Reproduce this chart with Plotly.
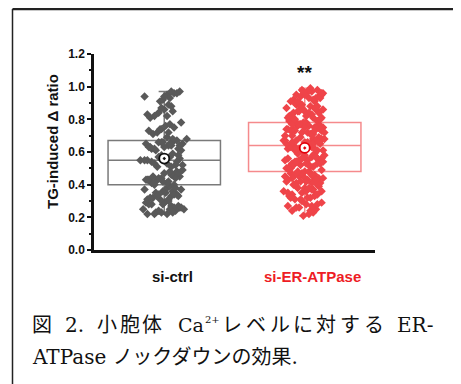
import plotly.graph_objects as go

# ---------------- data ----------------
groups = ["si-ctrl", "si-ER-ATPase"]
group_pos = [0, 1]

ctrl_y = [
    0.22, 0.23, 0.22, 0.24, 0.25, 0.26, 0.23, 0.27, 0.28, 0.25, 0.29, 0.24, 0.26, 0.28, 0.30, 0.27, 0.22, 0.25, 0.29, 0.26, 0.23, 0.28,
    0.31, 0.33, 0.32, 0.34, 0.35, 0.31, 0.36, 0.33, 0.37, 0.38, 0.32, 0.34, 0.36, 0.39, 0.35, 0.33, 0.37, 0.31, 0.38, 0.34,
    0.41, 0.42, 0.43, 0.40, 0.44, 0.45, 0.42, 0.46, 0.47, 0.43, 0.48, 0.41, 0.44, 0.49, 0.45, 0.46, 0.42, 0.47, 0.43, 0.48, 0.40, 0.44,
    0.51, 0.52, 0.53, 0.55, 0.54, 0.56, 0.57, 0.58, 0.52, 0.55, 0.59, 0.53, 0.56, 0.54, 0.57, 0.51, 0.58, 0.55,
    0.61, 0.62, 0.63, 0.64, 0.65, 0.66, 0.67, 0.68, 0.62, 0.64, 0.66, 0.61, 0.63, 0.65, 0.67, 0.69, 0.62, 0.64, 0.66, 0.68, 0.63, 0.65,
    0.71, 0.72, 0.74, 0.75, 0.73, 0.76, 0.78, 0.72, 0.77, 0.74,
    0.81, 0.82, 0.84, 0.85, 0.83, 0.86, 0.88, 0.82, 0.89, 0.87,
    0.91, 0.93, 0.94, 0.95, 0.96, 0.97, 0.92, 0.96, 0.94, 0.97,
]
ctrl_dx = [
    -0.12, -0.06, 0.02, 0.08, -0.15, 0.11, -0.02, 0.05, -0.09, 0.14, 0.00, -0.04, 0.07, -0.11, 0.03, 0.10, -0.07, 0.04, -0.13, 0.12, 0.06, -0.01,
    -0.03, 0.05, -0.08, 0.09, 0.01, -0.12, 0.06, -0.05, 0.12, 0.02, -0.10, 0.07, -0.01, 0.04, -0.06, 0.10, -0.14, 0.03, 0.08, -0.04,
    -0.09, 0.03, -0.13, 0.07, -0.02, 0.11, -0.06, 0.05, 0.00, -0.11, 0.09, 0.02, -0.04, 0.13, -0.08, 0.06, -0.01, 0.10, -0.12, 0.04, -0.07, 0.08,
    -0.05, 0.08, 0.02, -0.17, -0.09, 0.11, 0.04, -0.02, 0.13, -0.12, 0.06, -0.07, 0.00, 0.09, -0.04, 0.05, 0.10, -0.14,
    -0.06, 0.10, -0.11, 0.03, 0.13, -0.02, 0.07, 0.16, -0.09, 0.05, -0.04, 0.12, 0.00, -0.13, 0.09, 0.02, -0.07, 0.11, -0.01, 0.06, -0.10, 0.04,
    -0.08, 0.03, -0.02, 0.07, -0.11, 0.01, 0.12, -0.05, 0.04, -0.03,
    -0.10, 0.02, -0.04, 0.06, -0.12, 0.00, 0.05, -0.07, 0.03, -0.02,
    -0.03, 0.04, -0.14, 0.02, 0.07, 0.05, -0.01, 0.09, 0.00, 0.11,
]

er_y = [
    0.21, 0.22, 0.24, 0.23, 0.26, 0.25, 0.27, 0.28, 0.29, 0.24, 0.26, 0.28, 0.30, 0.27,
    0.31, 0.32, 0.33, 0.34, 0.35, 0.36, 0.37, 0.38, 0.39, 0.32, 0.34, 0.36, 0.38, 0.31, 0.33, 0.35, 0.37, 0.39, 0.34, 0.36, 0.32, 0.38,
    0.40, 0.41, 0.42, 0.43, 0.44, 0.45, 0.46, 0.47, 0.48, 0.49, 0.41, 0.43, 0.45, 0.47, 0.49, 0.40, 0.42, 0.44, 0.46, 0.48, 0.41, 0.43, 0.45, 0.47, 0.42, 0.44, 0.46, 0.48, 0.43, 0.45,
    0.50, 0.51, 0.52, 0.53, 0.54, 0.55, 0.56, 0.57, 0.58, 0.59, 0.51, 0.53, 0.55, 0.57, 0.59, 0.50, 0.52, 0.54, 0.56, 0.58, 0.51, 0.53, 0.55, 0.57, 0.52, 0.54, 0.56, 0.58, 0.53, 0.55, 0.57, 0.54,
    0.60, 0.61, 0.62, 0.63, 0.64, 0.65, 0.66, 0.67, 0.68, 0.69, 0.61, 0.63, 0.65, 0.67, 0.69, 0.60, 0.62, 0.64, 0.66, 0.68, 0.61, 0.63, 0.65, 0.67, 0.62, 0.64, 0.66, 0.68, 0.63, 0.65, 0.67, 0.64, 0.66, 0.62,
    0.70, 0.71, 0.72, 0.73, 0.74, 0.75, 0.76, 0.77, 0.78, 0.79, 0.71, 0.73, 0.75, 0.77, 0.79, 0.70, 0.72, 0.74, 0.76, 0.78, 0.71, 0.73, 0.75, 0.77, 0.72, 0.74, 0.76, 0.78, 0.73, 0.75, 0.77, 0.74,
    0.80, 0.81, 0.82, 0.83, 0.84, 0.85, 0.86, 0.87, 0.88, 0.89, 0.81, 0.83, 0.85, 0.87, 0.89, 0.80, 0.82, 0.84, 0.86, 0.88, 0.81, 0.83, 0.85, 0.87, 0.82, 0.84, 0.86, 0.88,
    0.90, 0.91, 0.92, 0.93, 0.94, 0.95, 0.96, 0.97, 0.98, 0.99, 0.91, 0.93, 0.95, 0.97, 0.90, 0.92, 0.94, 0.96, 0.98, 0.91, 0.93, 0.95, 0.97, 0.96,
]
er_dx = [
    -0.01, 0.03, -0.09, 0.06, -0.04, 0.08, -0.12, 0.01, 0.12, 0.04, -0.06, 0.09, -0.02, 0.05,
    -0.07, 0.04, -0.11, 0.08, -0.02, -0.15, 0.06, -0.05, 0.10, 0.02, -0.09, 0.12, 0.00, -0.03, 0.07, -0.12, 0.05, -0.06, 0.09, 0.01, -0.10, 0.03,
    -0.08, 0.05, -0.13, 0.02, 0.10, -0.04, 0.07, -0.10, 0.00, 0.12, -0.06, 0.08, -0.01, 0.04, -0.11, 0.09, -0.03, 0.13, -0.07, 0.03, 0.11, -0.12, 0.06, -0.02, 0.01, -0.09, 0.05, -0.05, 0.08, -0.14,
    -0.10, 0.06, -0.03, 0.11, -0.07, 0.02, -0.12, 0.08, 0.14, -0.05, 0.04, -0.09, 0.10, -0.01, 0.07, -0.13, 0.03, -0.06, 0.12, 0.00, -0.11, 0.09, -0.04, 0.05, -0.08, 0.13, -0.02, 0.06, 0.01, -0.14, 0.08, -0.06,
    -0.05, 0.09, -0.12, 0.03, -0.08, 0.11, 0.00, -0.14, 0.06, -0.03, 0.13, -0.10, 0.04, -0.06, 0.10, -0.01, 0.07, -0.11, 0.02, 0.12, -0.07, 0.05, -0.13, 0.08, -0.04, 0.01, -0.09, 0.14, -0.02, 0.06, -0.15, 0.03, 0.10, -0.06,
    -0.09, 0.04, -0.02, 0.12, -0.13, 0.07, -0.05, 0.10, 0.01, -0.11, 0.06, -0.07, 0.13, -0.03, 0.09, -0.14, 0.02, -0.08, 0.11, -0.01, 0.05, -0.10, 0.08, -0.04, 0.14, -0.12, 0.03, -0.06, 0.07, 0.00, -0.09, 0.11,
    -0.07, 0.06, -0.11, 0.02, 0.10, -0.04, 0.08, -0.13, 0.04, -0.02, 0.12, -0.09, 0.00, 0.07, -0.06, 0.11, -0.10, 0.03, -0.01, 0.09, -0.12, 0.05, -0.05, 0.08, 0.01, -0.08, 0.13, -0.03,
    -0.04, 0.07, -0.08, 0.03, 0.10, -0.06, 0.01, 0.05, -0.02, 0.04, -0.10, 0.08, 0.12, 0.02, -0.07, 0.06, -0.03, 0.13, 0.09, -0.05, 0.11, 0.00, -0.01, 0.12,
]

# box statistics (q1, median, q3, lower whisker, upper whisker, mean)
box_q1 = [0.40, 0.48]
box_median = [0.55, 0.64]
box_q3 = [0.67, 0.78]
box_low = [0.22, 0.21]
box_high = [0.97, 0.99]
box_mean = [0.56, 0.625]

y_ticks = [0.0, 0.2, 0.4, 0.6, 0.8, 1.0, 1.2]
y_tick_labels = ["0.0", "0.2", "0.4", "0.6", "0.8", "1.0", "1.2"]

caption_line1 = ["図", "2.", "小", "胞", "体", "Ca",
                 "レ", "ベ", "ル", "に", "対", "す", "る", "ER-"]
caption_sup = "2+"
caption_line2 = "ATPase ノックダウンの効果."

# ---------------- styles / layout (screen px -> paper) ----------------
PX_L, PX_R, PX_T, PX_B = 94, 375, 54, 250   # plot area in page pixels
OFF = 8                                     # page body margin
PW, PH = PX_R - PX_L, PX_B - PX_T

def xp(px):
    return (px - PX_L) / PW

def yp(py):
    return (PX_B - py) / PH

pt_colors = ["#595959", "#ef4449"]
box_colors = ["#7a7a7a", "#f58a8c"]
mean_line_colors = ["#111111", "#e3000b"]
label_colors = ["#111111", "#ee1c25"]

fig = go.Figure()

for i in range(2):
    fig.add_trace(go.Box(
        x=[group_pos[i]], q1=[box_q1[i]], median=[box_median[i]], q3=[box_q3[i]],
        lowerfence=[box_low[i]], upperfence=[box_high[i]],
        width=0.8, whiskerwidth=0.1,
        fillcolor="rgba(255,255,255,0)",
        line=dict(color=box_colors[i], width=1.5),
        boxpoints=False, showlegend=False, hoverinfo="skip",
    ))

pts = [(ctrl_y, ctrl_dx), (er_y, er_dx)]
for i, (ys, dxs) in enumerate(pts):
    pairs = list(zip(ys, dxs))
    fig.add_trace(go.Scatter(
        x=[group_pos[i] + d for _, d in pairs],
        y=[y for y, _ in pairs],
        mode="markers",
        marker=dict(symbol="diamond", size=6.5, color=pt_colors[i], line=dict(width=0)),
        showlegend=False, hoverinfo="skip",
    ))

for i in range(2):
    fig.add_trace(go.Scatter(
        x=[group_pos[i]], y=[box_mean[i]], mode="markers",
        marker=dict(symbol="circle-dot", size=10, color="white",
                    line=dict(color=mean_line_colors[i], width=1.8)),
        showlegend=False, hoverinfo="skip",
    ))

W, H = 461 - OFF, 384 - OFF
fig.update_layout(
    width=W, height=H,
    margin=dict(l=PX_L - OFF, r=W - (PX_R - OFF), t=PX_T - OFF, b=H - (PX_B - OFF)),
    paper_bgcolor="white", plot_bgcolor="white",
    showlegend=False,
    xaxis=dict(range=[-0.5, 1.5], showgrid=False, zeroline=False,
               showline=True, linecolor="#111", linewidth=2.5,
               showticklabels=False, ticks=""),
    yaxis=dict(range=[0, 1.2], showgrid=False, zeroline=False,
               showline=True, linecolor="#111", linewidth=2.5,
               tickvals=y_ticks, ticktext=y_tick_labels,
               ticks="outside", ticklen=4, tickwidth=2, tickcolor="#111",
               minor=dict(dtick=0.1, ticks="outside", ticklen=2, tickwidth=1.5, tickcolor="#111"),
               tickfont=dict(family="Liberation Sans", size=12, color="#111", weight="bold")),
)

ann = []
# y-axis title
ann.append(dict(xref="paper", yref="paper", x=xp(52), y=yp(142),
                text="<b>TG-induced Δ ratio</b>", textangle=-90, showarrow=False,
                font=dict(family="Liberation Sans", size=15, color="#111"),
                xanchor="center", yanchor="middle"))
# category labels
label_x = [172, 312]
for i in range(2):
    ann.append(dict(xref="paper", yref="paper", x=xp(label_x[i]), y=yp(276),
                    text="<b>" + groups[i] + "</b>", showarrow=False,
                    font=dict(family="Liberation Sans", size=15, color=label_colors[i]),
                    xanchor="center", yanchor="middle"))
# significance
ann.append(dict(xref="x", yref="paper", x=1, y=yp(72),
                text="<b>**</b>", showarrow=False,
                font=dict(family="Liberation Sans", size=19, color="#111"),
                xanchor="center", yanchor="middle"))

# caption
cap_font = "DejaVu Serif, Noto Sans CJK JP"
line1_x = [30, 63, 95, 118, 140, 176, 220, 244, 268, 291, 314, 338, 362, 395]
line1_sz = [20, 20, 20, 20, 20, 19, 20, 20, 20, 20, 20, 20, 20, 20]
for px, t, sz in zip(line1_x, caption_line1, line1_sz):
    ann.append(dict(xref="paper", yref="paper", x=xp(px), y=yp(325),
                    text=t, showarrow=False, font=dict(family=cap_font, size=sz, color="#111"),
                    xanchor="left", yanchor="middle"))
ann.append(dict(xref="paper", yref="paper", x=xp(203), y=yp(319),
                text=caption_sup, showarrow=False,
                font=dict(family=cap_font, size=10, color="#111"),
                xanchor="left", yanchor="middle"))
ann.append(dict(xref="paper", yref="paper", x=xp(30), y=yp(357),
                text=caption_line2, showarrow=False,
                font=dict(family=cap_font, size=20, color="#111"),
                xanchor="left", yanchor="middle"))
fig.update_layout(annotations=ann)

# frame around the figure
fx0 = xp(12.5)
fy_top = yp(9)
fig.add_shape(type="line", xref="paper", yref="paper", x0=fx0, x1=1.5, y0=fy_top, y1=fy_top,
              line=dict(color="#222", width=2.5))
fig.add_shape(type="line", xref="paper", yref="paper", x0=fx0, x1=fx0, y0=fy_top, y1=-0.8,
              line=dict(color="#222", width=1.5))

fig.write_html("out.html")
